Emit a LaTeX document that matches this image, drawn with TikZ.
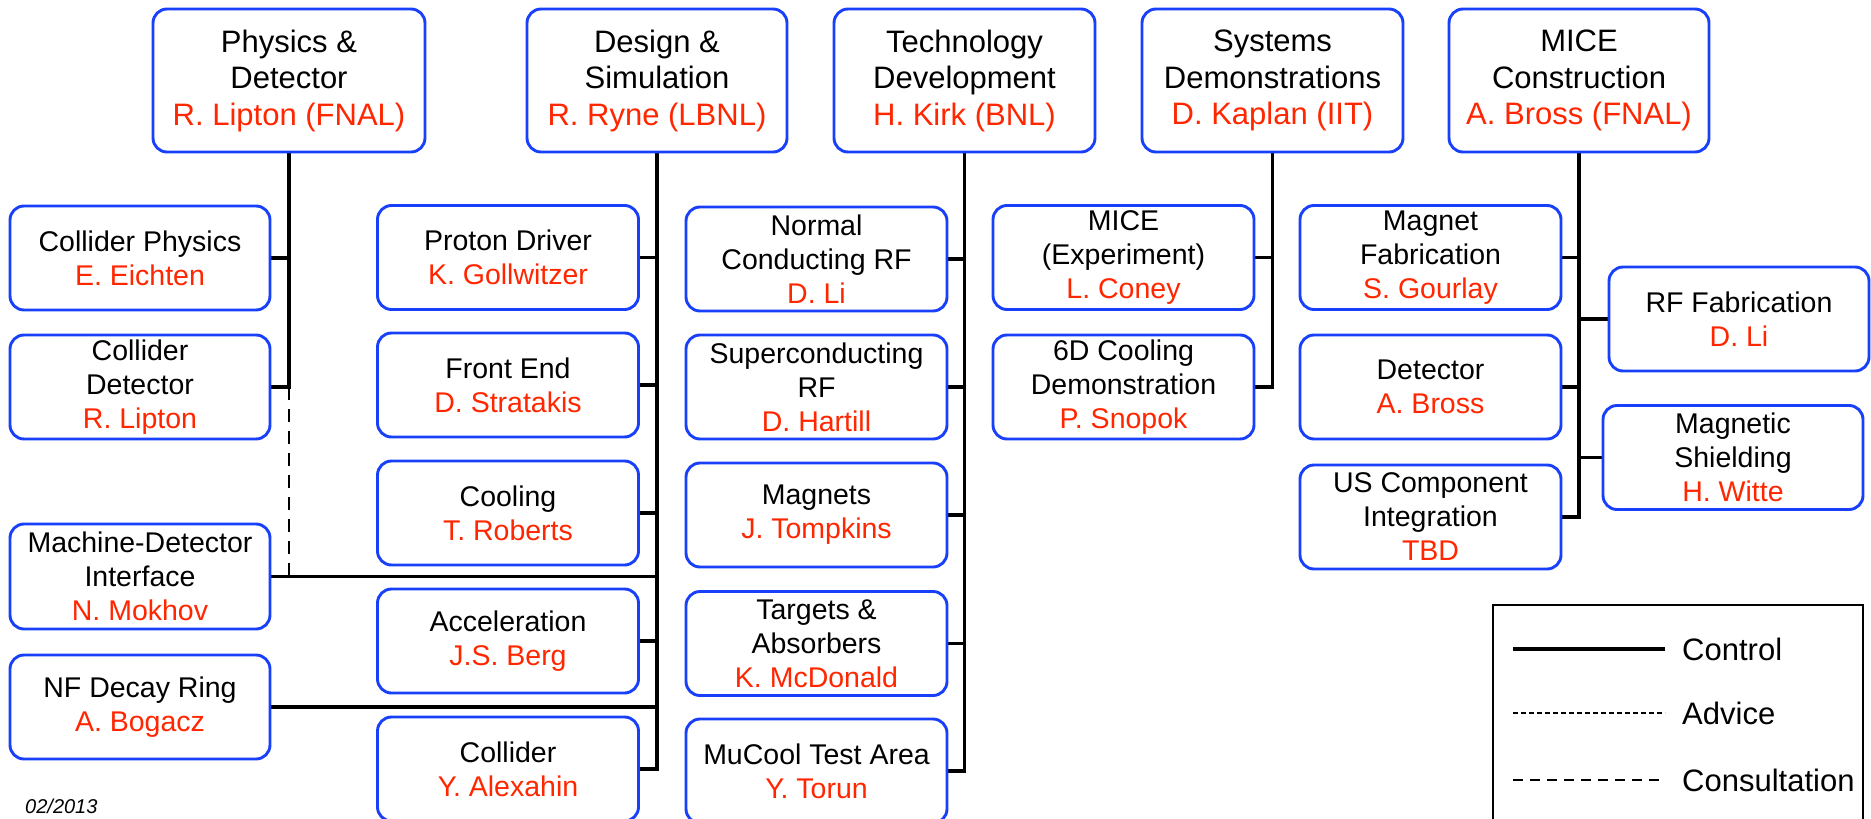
\documentclass[tikz,border=0pt]{standalone}
\usepackage{fontspec}
\setmainfont{Liberation Sans}
\usetikzlibrary{backgrounds}
\definecolor{boxblue}{RGB}{24,64,250}
\definecolor{namered}{RGB}{255,38,0}
\newcommand\leadname[1]{\textcolor{namered}{#1}}
\tikzset{
  unit/.style={draw=boxblue, line width=2.9pt, rounded corners=14pt, fill=white,
    align=center, inner sep=0pt, font=\fontsize{28.5}{34}\selectfont,
    minimum width=260pt, minimum height=104pt},
  head/.style={unit, font=\fontsize{31}{36.5}\selectfont, minimum height=143pt},
  link/.style={line width=3.2pt, black, line join=miter},
  consult/.style={line width=2.8pt, black, dash pattern=on 13pt off 9pt},
  legconsult/.style={line width=2.8pt, black, dash pattern=on 10pt off 7pt},
  advice/.style={line width=2pt, black, dash pattern=on 5pt off 3pt},
  legtext/.style={font=\fontsize{31}{36}\selectfont, inner sep=0pt, anchor=base west},
}
\begin{document}
\begin{tikzpicture}[x=1pt, y=-1pt]
\useasboundingbox (0,0) rectangle (1871,819);

% top-level groups
\node[head, minimum width=272pt] (phys) at (289,80.5) {Physics \&\\Detector\\\leadname{R. Lipton (FNAL)}};
\node[head] (design) at (657,80.5) {Design \&\\Simulation\\\leadname{R. Ryne (LBNL)}};
\node[head, minimum width=261pt] (tech) at (964.5,80.5) {Technology\\Development\\\leadname{H. Kirk (BNL)}};
\node[head, minimum width=261pt] (sys) at (1272.5,80.5) {Systems\\Demonstrations\\\leadname{D. Kaplan (IIT)}};
\node[head] (mice) at (1579,80.5) {MICE\\Construction\\\leadname{A. Bross (FNAL)}};

% physics & detector
\node[unit] (colphys) at (140,258) {Collider Physics\\\leadname{E. Eichten}};
\node[unit] (coldet) at (140,387) {Collider\\Detector\\\leadname{R. Lipton}};
\node[unit, minimum height=105pt] (mdi) at (140,576.5) {Machine-Detector\\Interface\\\leadname{N. Mokhov}};
\node[unit] (nfdr) at (140,707) {NF Decay Ring\\\leadname{A. Bogacz}};

% design & simulation
\node[unit, minimum width=261pt] (proton) at (508,257.5) {Proton Driver\\\leadname{K. Gollwitzer}};
\node[unit, minimum width=261pt] (front) at (508,385) {Front End\\\leadname{D. Stratakis}};
\node[unit, minimum width=261pt] (cooling) at (508,513) {Cooling\\\leadname{T. Roberts}};
\node[unit, minimum width=261pt] (accel) at (508,641) {Acceleration\\\leadname{J.S. Berg}};
\node[unit, minimum width=261pt] (collider) at (508,769) {Collider\\\leadname{Y. Alexahin}};

% technology development
\node[unit, minimum width=261pt] (ncrf) at (816.5,259) {Normal\\Conducting RF\\\leadname{D. Li}};
\node[unit, minimum width=261pt] (scrf) at (816.5,387) {Superconducting\\RF\\\leadname{D. Hartill}};
\node[unit, minimum width=261pt] (magnets) at (816.5,515) {Magnets\\\leadname{J. Tompkins}};
\node[unit, minimum width=261pt] (targets) at (816.5,643.5) {Targets \&\\Absorbers\\\leadname{K. McDonald}};
\node[unit, minimum width=261pt] (mucool) at (816.5,771) {MuCool Test Area\\\leadname{Y. Torun}};

% systems demonstrations
\node[unit, minimum width=261pt] (miceexp) at (1123.5,257.5) {MICE\\(Experiment)\\\leadname{L. Coney}};
\node[unit, minimum width=261pt] (sixd) at (1123.5,387) {6D Cooling\\Demonstration\\\leadname{P. Snopok}};

% MICE construction
\node[unit, minimum width=261pt] (magfab) at (1430.5,257.5) {Magnet\\Fabrication\\\leadname{S. Gourlay}};
\node[unit, minimum width=261pt] (det) at (1430.5,387) {Detector\\\leadname{A. Bross}};
\node[unit, minimum width=261pt] (uscomp) at (1430.5,517) {US Component\\Integration\\\leadname{TBD}};
\node[unit] (rffab) at (1739,319) {RF Fabrication\\\leadname{D. Li}};
\node[unit] (magshield) at (1733,457.5) {Magnetic\\Shielding\\\leadname{H. Witte}};

\begin{scope}[on background layer]
  % physics & detector tree
  \draw[link] (phys.south) -- (phys.south |- coldet.east) -- (coldet.east);
  \draw[link] (colphys.east) -- (colphys.east -| phys.south);
  \draw[consult] (phys.south |- coldet.east) -- (phys.south |- mdi.east);
  % design & simulation tree
  \draw[link] (design.south) -- (design.south |- collider.east) -- (collider.east);
  \foreach \n in {proton,front,cooling,accel,mdi,nfdr}
    \draw[link] (\n.east) -- (\n.east -| design.south);
  % technology development tree
  \draw[link] (tech.south) -- (tech.south |- mucool.east) -- (mucool.east);
  \foreach \n in {ncrf,scrf,magnets,targets}
    \draw[link] (\n.east) -- (\n.east -| tech.south);
  % systems demonstrations tree
  \draw[link] (sys.south) -- (sys.south |- sixd.east) -- (sixd.east);
  \draw[link] (miceexp.east) -- (miceexp.east -| sys.south);
  % MICE construction tree
  \draw[link] (mice.south) -- (mice.south |- uscomp.east) -- (uscomp.east);
  \foreach \n in {magfab,det}
    \draw[link] (\n.east) -- (\n.east -| mice.south);
  \foreach \n in {rffab,magshield}
    \draw[link] (\n.west) -- (\n.west -| mice.south);
\end{scope}

% legend
\draw[line width=2.6pt] (1493,840) -- (1493,605) -- (1863,605) -- (1863,840);
\coordinate (lgc) at (1513,649);
\coordinate (lga) at (1513,713);
\coordinate (lgs) at (1513,780);
\draw[link] (lgc) -- ++(152,0);
\draw[advice] (lga) -- ++(152,0);
\draw[legconsult] (lgs) -- ++(152,0);
\node[legtext] (lcontrol) at (1682,660) {Control};
\node[legtext] (ladvice) at (1682,724) {Advice};
\node[legtext] (lconsult) at (1682,791) {Consultation};

% date stamp
\node[font=\fontsize{20}{24}\selectfont\itshape, inner sep=0pt, anchor=base west] (date) at (25,813) {02/2013};
\end{tikzpicture}
\end{document}
